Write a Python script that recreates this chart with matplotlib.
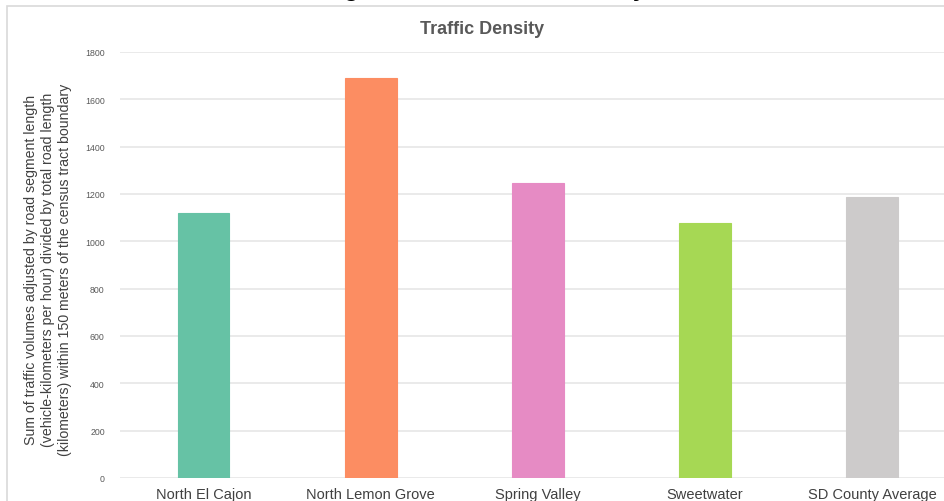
import matplotlib.pyplot as plt
import matplotlib.patches as mpatches

plt.rcParams['font.family'] = ['Liberation Sans', 'DejaVu Sans']

places = ["North El Cajon", "North Lemon Grove", "Spring Valley", "Sweetwater", "SD County Average"]
density = [1118, 1689, 1245, 1076, 1188]
bar_colors = ["#66c2a5", "#fc8d62", "#e68bc4", "#a6d854", "#cdcbcb"]
yticks = [0, 200, 400, 600, 800, 1000, 1200, 1400, 1600, 1800]

W, H = 945, 502
fig = plt.figure(figsize=(W / 100, H / 100), dpi=100)

# chart frame border (cropped screenshot, only top and left visible)
fig.patches.append(mpatches.Rectangle((7 / W, -0.1), 1.2, 1 - 7 / H + 0.1, transform=fig.transFigure,
                                      fill=False, edgecolor="#d9d9d9", linewidth=1.2))

# cropped heading above the chart, only its descenders show
fig.text(476 / W, 1 + 4 / H, "Neighborhood Traffic Density", ha="center", va="baseline",
         fontsize=17.5, fontweight="bold", color="black")

ax = fig.add_axes([120 / W, 23 / H, 835.5 / W, 426 / H])
x = list(range(len(places)))
ax.bar(x, density, width=0.31, color=bar_colors, edgecolor=bar_colors, linewidth=0.8, zorder=3)

ax.set_xlim(-0.5, 4.5)
ax.set_ylim(0, 1800)
ax.set_yticks(yticks)
ax.set_yticklabels([str(v) for v in yticks], fontsize=6.3, color="#595959")
ax.set_xticks(x)
ax.set_xticklabels(places, fontsize=10.5, color="#404040")
ax.tick_params(axis="y", length=0, pad=11)
ax.tick_params(axis="x", length=0, pad=6.5)
ax.grid(axis="y", color="#e4e4e4", linewidth=1.1, zorder=0)
for s in ax.spines.values():
    s.set_visible(False)

ax.set_ylabel("Sum of traffic volumes adjusted by road segment length\n"
              "(vehicle-kilometers per hour) divided by total road length\n"
              "(kilometers) within 150 meters of the census tract boundary",
              fontsize=10.2, color="#404040", linespacing=1.25)
ax.yaxis.set_label_coords(-48 / 835.5, 0.49)

fig.text(482 / W, 1 - 30 / H, "Traffic Density", ha="center", va="center",
         fontsize=13, fontweight="bold", color="#595959")

fig.savefig("out.png", dpi=100)
